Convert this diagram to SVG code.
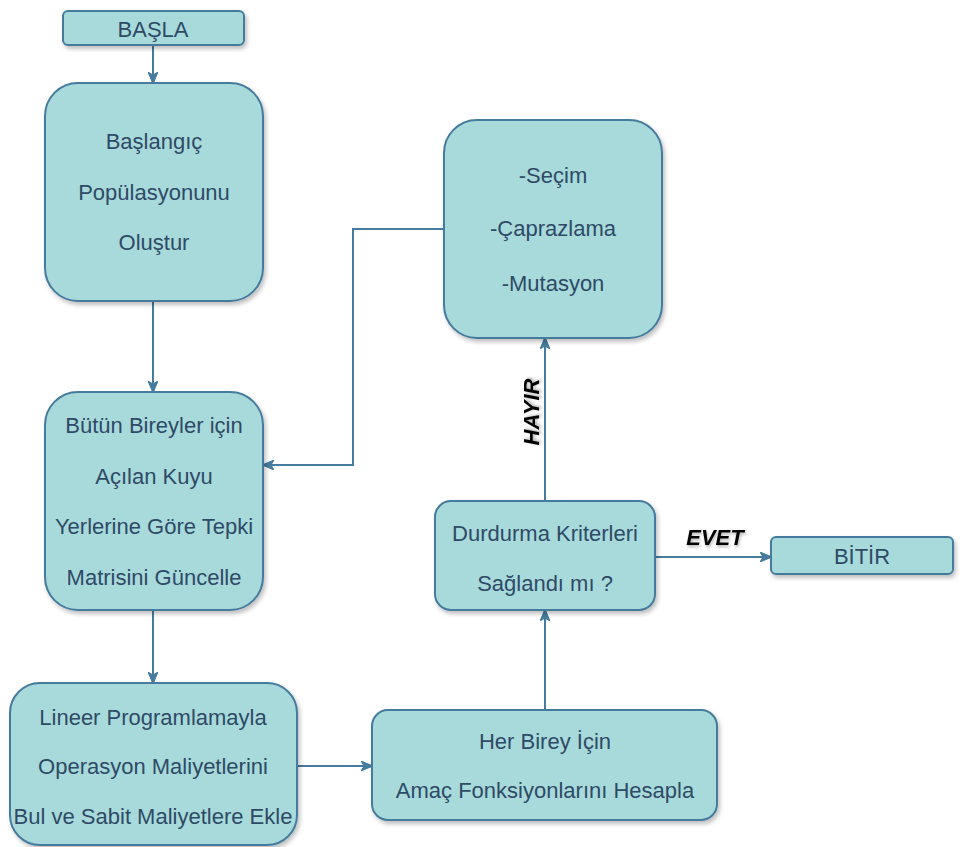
<svg xmlns="http://www.w3.org/2000/svg" width="960" height="847" viewBox="0 0 960 847">
<defs>
  <filter id="sh" x="-10%" y="-10%" width="130%" height="130%">
    <feDropShadow dx="2" dy="3" stdDeviation="2" flood-color="#000" flood-opacity="0.25"/>
  </filter>
  <filter id="tsh" x="-20%" y="-20%" width="150%" height="150%">
    <feDropShadow dx="1" dy="2" stdDeviation="1.5" flood-color="#000" flood-opacity="0.3"/>
  </filter>
  <marker id="arr" viewBox="0 0 12 10" refX="11" refY="5" markerWidth="12" markerHeight="10" markerUnits="userSpaceOnUse" orient="auto">
    <path d="M0,0 L12,5 L0,10 L3,5 z" fill="#457B9D" stroke="#457B9D" stroke-width="1"/>
  </marker>
  <style>
    .box{fill:#A8DADC;stroke:#457B9D;stroke-width:2;filter:url(#sh)}
    .t{font-family:"Liberation Sans",Arial,sans-serif;font-size:22px;fill:#2E4A66;text-anchor:middle}
    .e{fill:none;stroke:#457B9D;stroke-width:2;marker-end:url(#arr)}
    .lbl{font-family:"Liberation Sans",Arial,sans-serif;font-size:22px;font-weight:bold;font-style:italic;fill:#000;text-anchor:middle;filter:url(#tsh)}
  </style>
</defs>
<g id="edges">
  <path class="e" d="M153,45 L153,83"/>
  <path class="e" d="M153,301 L153,392"/>
  <path class="e" d="M153,610 L153,683"/>
  <path class="e" d="M297,766 L372,766"/>
  <path class="e" d="M545,710 L545,610"/>
  <path class="e" d="M655,557 L771,557"/>
  <path class="e" d="M545,501 L545,338"/>
  <path class="e" d="M444,229 L353,229 L353,465 L263,465"/>
  <text class="lbl" x="715" y="545">EVET</text>
  <text class="lbl" transform="translate(539,412) rotate(-90)" x="0" y="0">HAYIR</text>
</g>
<g id="start">
  <rect class="box" x="63" y="11" width="181" height="34" rx="5"/>
  <text class="t" x="153" y="37">BAŞLA</text>
</g>
<g id="init">
  <rect class="box" x="45" y="83" width="218" height="218" rx="33"/>
  <text class="t" x="154" y="149">Başlangıç</text>
  <text class="t" x="154" y="200">Popülasyonunu</text>
  <text class="t" x="154" y="250">Oluştur</text>
</g>
<g id="update">
  <rect class="box" x="45" y="392" width="218" height="218" rx="33"/>
  <text class="t" x="154" y="433">Bütün Bireyler için</text>
  <text class="t" x="154" y="484">Açılan Kuyu</text>
  <text class="t" x="154" y="534">Yerlerine Göre Tepki</text>
  <text class="t" x="154" y="585">Matrisini Güncelle</text>
</g>
<g id="lp">
  <rect class="box" x="10" y="683" width="287" height="162" rx="30"/>
  <text class="t" x="153" y="725">Lineer Programlamayla</text>
  <text class="t" x="153" y="774">Operasyon Maliyetlerini</text>
  <text class="t" x="153" y="824">Bul ve Sabit Maliyetlere Ekle</text>
</g>
<g id="objective">
  <rect class="box" x="372" y="710" width="345" height="110" rx="16"/>
  <text class="t" x="545" y="749">Her Birey İçin</text>
  <text class="t" x="545" y="798">Amaç Fonksiyonlarını Hesapla</text>
</g>
<g id="stop">
  <rect class="box" x="435" y="501" width="220" height="109" rx="16"/>
  <text class="t" x="545" y="541">Durdurma Kriterleri</text>
  <text class="t" x="545" y="591">Sağlandı mı ?</text>
</g>
<g id="ops">
  <rect class="box" x="444" y="120" width="218" height="218" rx="33"/>
  <text class="t" x="553" y="183">-Seçim</text>
  <text class="t" x="553" y="236">-Çaprazlama</text>
  <text class="t" x="553" y="291">-Mutasyon</text>
</g>
<g id="end">
  <rect class="box" x="771" y="537" width="182" height="37" rx="5"/>
  <text class="t" x="862" y="564">BİTİR</text>
</g>
</svg>
